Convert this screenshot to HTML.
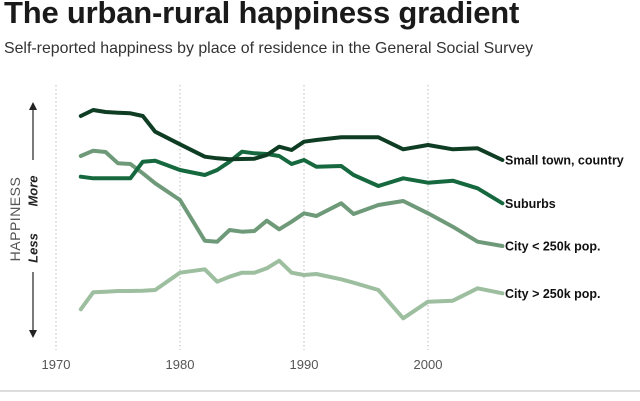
<!DOCTYPE html>
<html><head><meta charset="utf-8"><style>
body{margin:0;background:#fff;font-family:"Liberation Sans",sans-serif;}
#wrap{position:relative;width:640px;height:401px;overflow:hidden;}
h1{position:absolute;left:4px;top:-5px;margin:0;font-size:31px;font-weight:bold;color:#1a1a1a;letter-spacing:-0.2px;}
h2{position:absolute;left:4px;top:40px;margin:0;font-size:15.9px;font-weight:normal;color:#333;}
</style></head><body>
<div id="wrap">
<h1>The urban-rural happiness gradient</h1>
<h2>Self-reported happiness by place of residence in the General Social Survey</h2>
<svg id="chart" width="640" height="401" style="position:absolute;left:0;top:0"></svg>
</div>
<script>
const years=[1972,1973,1974,1975,1976,1977,1978,1980,1982,1983,1984,1985,1986,1987,1988,1989,1990,1991,1993,1994,1996,1998,2000,2002,2004,2006];
const smallTown=[622,640,634,632,630,622,575,537,500,495,492,493,494,505,530,520,545,550,558,558,558,522,535,522,525,490];
const suburbs=[440,435,435,435,435,485,488,460,445,460,485,515,510,508,502,478,490,470,472,445,412,435,422,428,405,360];
const citySmall=[502,518,514,480,478,450,420,370,248,245,280,275,277,308,282,305,330,322,360,328,355,367,330,290,245,232];
const cityLarge=[42,93,95,97,97,98,100,152,162,125,140,152,152,165,188,152,145,148,132,122,100,15,65,68,105,90];
const seriesNames=["Small town, country","Suburbs","City < 250k pop.","City > 250k pop."];
const seriesColors=["#0f3d24","#16693f","#6f9a7a","#9dbf9f"];
const tickYears=[1970,1980,1990,2000];
const NS="http://www.w3.org/2000/svg";
const svg=document.getElementById('chart');
function xScale(y){return 56+(y-1970)*12.4;}
function yScale(v){return 90+(700-v)/3;}
function mk(t,a){const e=document.createElementNS(NS,t);for(const k in a)e.setAttribute(k,a[k]);svg.appendChild(e);return e;}
tickYears.forEach(t=>{
  const g=mk('line',{x1:xScale(t),x2:xScale(t),y1:85,y2:350,stroke:'#bbb','stroke-width':1,'stroke-dasharray':'1.5,2.5'});
  
  
  const l=mk('text',{x:xScale(t),y:369,'text-anchor':'middle','font-size':13,fill:'#555'});
  l.textContent=t;
  
  
});
const bl=mk('line',{x1:0,x2:640,y1:391,y2:391,stroke:'#bbb','stroke-width':1});


const a1=mk('line',{x1:33,x2:33,y1:106,y2:160,stroke:'#222','stroke-width':1.2});


const h1=mk('path',{d:'M29,110 L33,102 L37,110 Z',fill:'#222'});


const a2=mk('line',{x1:33,x2:33,y1:272,y2:334,stroke:'#222','stroke-width':1.2});


const h2=mk('path',{d:'M29,330 L33,338 L37,330 Z',fill:'#222'});


const yt=mk('text',{x:0,y:0,transform:'translate(20,219) rotate(-90)','text-anchor':'middle','font-size':14,fill:'#555','letter-spacing':'0.5'});
yt.textContent='HAPPINESS';


const mo=mk('text',{x:0,y:0,transform:'translate(37.5,191) rotate(-90)','text-anchor':'middle','font-size':13,'font-weight':'bold','font-style':'italic',fill:'#222'});
mo.textContent='More';


const le=mk('text',{x:0,y:0,transform:'translate(37.5,248) rotate(-90)','text-anchor':'middle','font-size':13,'font-weight':'bold','font-style':'italic',fill:'#222'});
le.textContent='Less';


const all=[smallTown,suburbs,citySmall,cityLarge];
const order=[3,2,1,0];
order.forEach(i=>{
  const d=all[i].map((v,j)=>(j?'L':'M')+xScale(years[j]).toFixed(1)+','+yScale(v).toFixed(1)).join(' ');
  const p=mk('path',{d:d,fill:'none',stroke:seriesColors[i],'stroke-width':4,'stroke-linejoin':'round','stroke-linecap':'round'});
  
  
  const last=all[i][all[i].length-1];
  const t=mk('text',{x:505,y:yScale(last)+4.5,'font-size':12.5,'font-weight':'bold',fill:'#111'});
  t.textContent=seriesNames[i];
  
  
});
</script>
</body></html>
